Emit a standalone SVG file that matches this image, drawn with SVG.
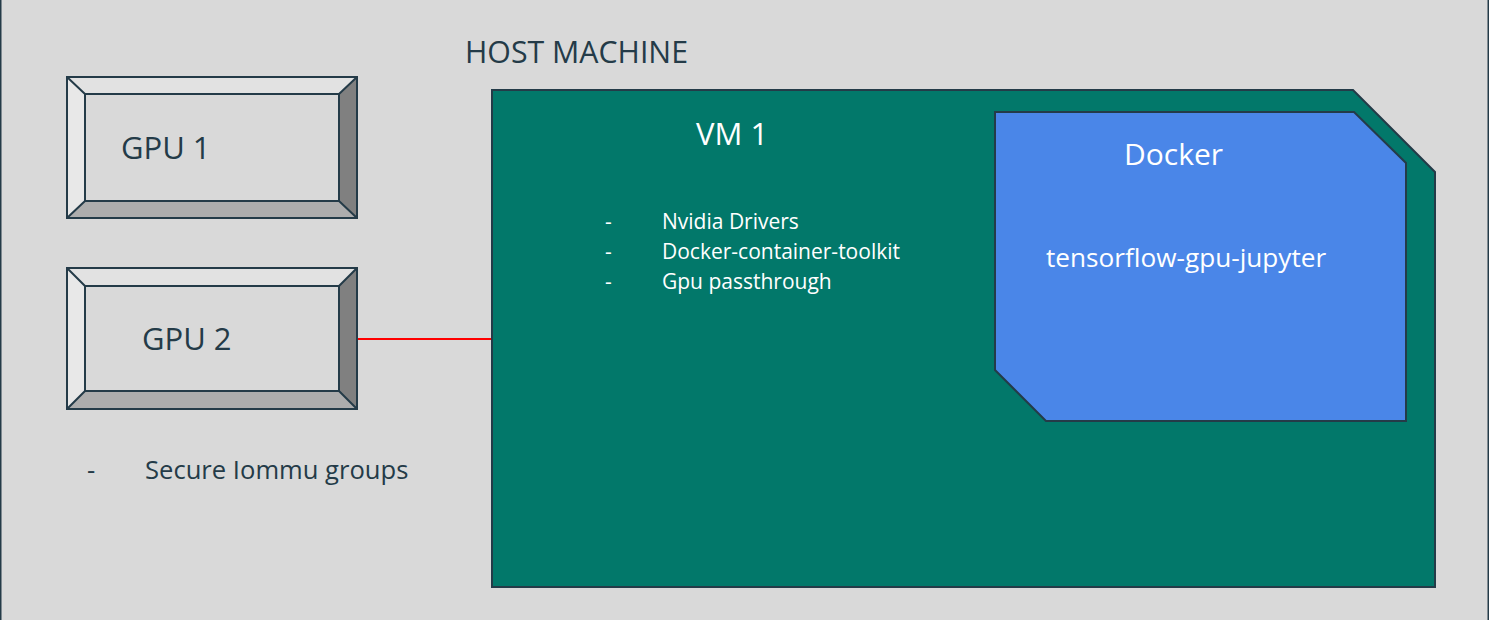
<svg xmlns="http://www.w3.org/2000/svg" width="1489" height="620" viewBox="0 0 1489 620">
<style>
.dark{fill:#243B48;font-family:"Open Sans","Liberation Sans",sans-serif}
.light{fill:#FFFFFF;font-family:"Open Sans","Liberation Sans",sans-serif}
.edge{stroke:#243B48;stroke-width:2;stroke-linejoin:miter}
.bt{fill:#E2E2E2}.bl{fill:#E8E8E8}.bb{fill:#ADADAD}.br{fill:#808080}.bi{fill:#D9D9D9}
</style>
<rect x="0" y="0" width="1489" height="620" fill="#D9D9D9"/>
<rect x="0.5" y="-10" width="1488" height="640" fill="none" stroke="#243B48" stroke-width="2"/>
<text class="dark" x="465" y="63" font-size="30.3">HOST MACHINE</text>
<g id="gpu1">
<polygon class="bt" points="67,77 357,77 339,94 85,94"/>
<polygon class="bl" points="67,77 85,94 85,201 67,218"/>
<polygon class="bb" points="67,218 85,201 339,201 357,218"/>
<polygon class="br" points="357,77 357,218 339,201 339,94"/>
<rect class="bi edge" x="85" y="94" width="254" height="107"/>
<rect fill="none" class="edge" x="67" y="77" width="290" height="141"/>
<path class="edge" d="M67,77L85,94M357,77L339,94M67,218L85,201M357,218L339,201"/>
<text class="dark" x="121" y="159" font-size="31">GPU 1</text>
</g>
<g id="gpu2">
<polygon class="bt" points="67,268 357,268 339,286 85,286"/>
<polygon class="bl" points="67,268 85,286 85,391 67,409"/>
<polygon class="bb" points="67,409 85,391 339,391 357,409"/>
<polygon class="br" points="357,268 357,409 339,391 339,286"/>
<rect class="bi edge" x="85" y="286" width="254" height="105"/>
<rect fill="none" class="edge" x="67" y="268" width="290" height="141"/>
<path class="edge" d="M67,268L85,286M357,268L339,286M67,409L85,391M357,409L339,391"/>
<text class="dark" x="142" y="350" font-size="31">GPU 2</text>
</g>
<g id="iommu">
<text class="dark" x="87" y="479" font-size="25.6">-</text>
<text class="dark" x="145" y="479" font-size="25.6">Secure Iommu groups</text>
</g>
<g id="connectors">
<line x1="358" y1="339" x2="492" y2="339" stroke="#FF0000" stroke-width="2"/>
</g>
<g id="vm1">
<polygon class="edge" fill="#02786A" points="492,90 1353,90 1435,172 1435,587 492,587"/>
<text class="light" x="696" y="145" font-size="31">VM 1</text>
<g font-size="21">
<text class="light" x="605" y="229">-</text>
<text class="light" x="662" y="229">Nvidia Drivers</text>
<text class="light" x="605" y="259">-</text>
<text class="light" x="662" y="259">Docker-container-toolkit</text>
<text class="light" x="605" y="289">-</text>
<text class="light" x="662" y="289">Gpu passthrough</text>
</g>
</g>
<g id="docker">
<polygon class="edge" fill="#4A86E8" points="995,112 1354,112 1406,163 1406,421 1046,421 995,370"/>
<text class="light" x="1124" y="165" font-size="30">Docker</text>
<text class="light" x="1046" y="267" font-size="26.2">tensorflow-gpu-jupyter</text>
</g>
</svg>
